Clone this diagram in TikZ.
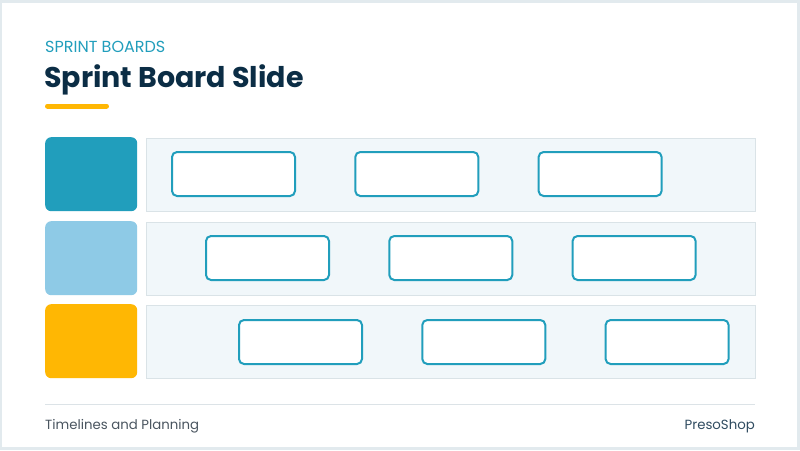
\documentclass[tikz,border=0pt]{standalone}
\usepackage{fontspec}
\setmainfont{Poppins}
\usepackage{tikz}
\usetikzlibrary{positioning}

\definecolor{framebg}{HTML}{E2EAEE}
\definecolor{navy}{HTML}{0B2D45}
\definecolor{teal}{HTML}{219EBC}
\definecolor{skyblue}{HTML}{8ECAE6}
\definecolor{amber}{HTML}{FFB703}
\definecolor{lanefill}{HTML}{F1F7FA}
\definecolor{laneline}{HTML}{DAE3E7}
\definecolor{footline}{HTML}{DCE3E7}
\definecolor{foottext}{HTML}{4A5560}

\tikzset{
  lanebox/.style={draw=laneline, fill=lanefill, line width=1pt, minimum width=609pt,
    minimum height=73pt, anchor=north west, inner sep=0pt},
  tagbox/.style={rounded corners=6pt, minimum width=92pt, minimum height=74pt,
    anchor=north west, inner sep=0pt},
  card/.style={draw=teal, fill=white, line width=2pt, rounded corners=5pt,
    minimum width=123pt, minimum height=44pt, anchor=north west, inner sep=0pt}
}

\begin{document}
\begin{tikzpicture}[x=1pt, y=-1pt]
    \useasboundingbox (0, 0) rectangle (800, 450);
    \fill[framebg] (0, 0) rectangle (800, 450);
    \fill[white] (2, 2.5) rectangle (797, 447);

    % heading
    \node[anchor = base west, inner sep = 0, text = teal, font = \fontsize{16}{18}\selectfont] (kicker) at (45, 52) {SPRINT BOARDS};
    \node[anchor = base west, inner sep = 0, text = navy, font = \fontsize{28.5}{32}\selectfont\bfseries] (title) at (44, 87) {Sprint Board Slide};
    \draw[amber, line width = 5pt, line cap = round] (47.5, 106) -- (106.5, 106);

    % lanes
    \foreach \r/\y/\c in {1/137/teal, 2/221/skyblue, 3/304/amber} {
        \node[tagbox, fill = \c] (tag\r) at (45, \y) {};
        \node[lanebox] (lane\r) at (145.5, \y + 0.5) {};
    }

    % cards
    \foreach \r/\y/\x in {1/151/171, 2/235/205, 3/319/238} {
        \foreach \i in {0, 1, 2} {
            \node[card] (card\r\i) at ({\x + 183.3*\i}, \y) {};
        }
    }

    % footer
    \draw[footline, line width = 1pt] (45, 404) -- (755, 404);
    \node[anchor = base west, inner sep = 0, text = foottext, font = \fontsize{13.3}{15}\selectfont] (topic) at (45, 429) {Timelines and Planning};
    \node[anchor = base east, inner sep = 0, text = navy!85, font = \fontsize{13.3}{15}\selectfont] (brand) at (755, 429) {PresoShop};
\end{tikzpicture}
\end{document}
